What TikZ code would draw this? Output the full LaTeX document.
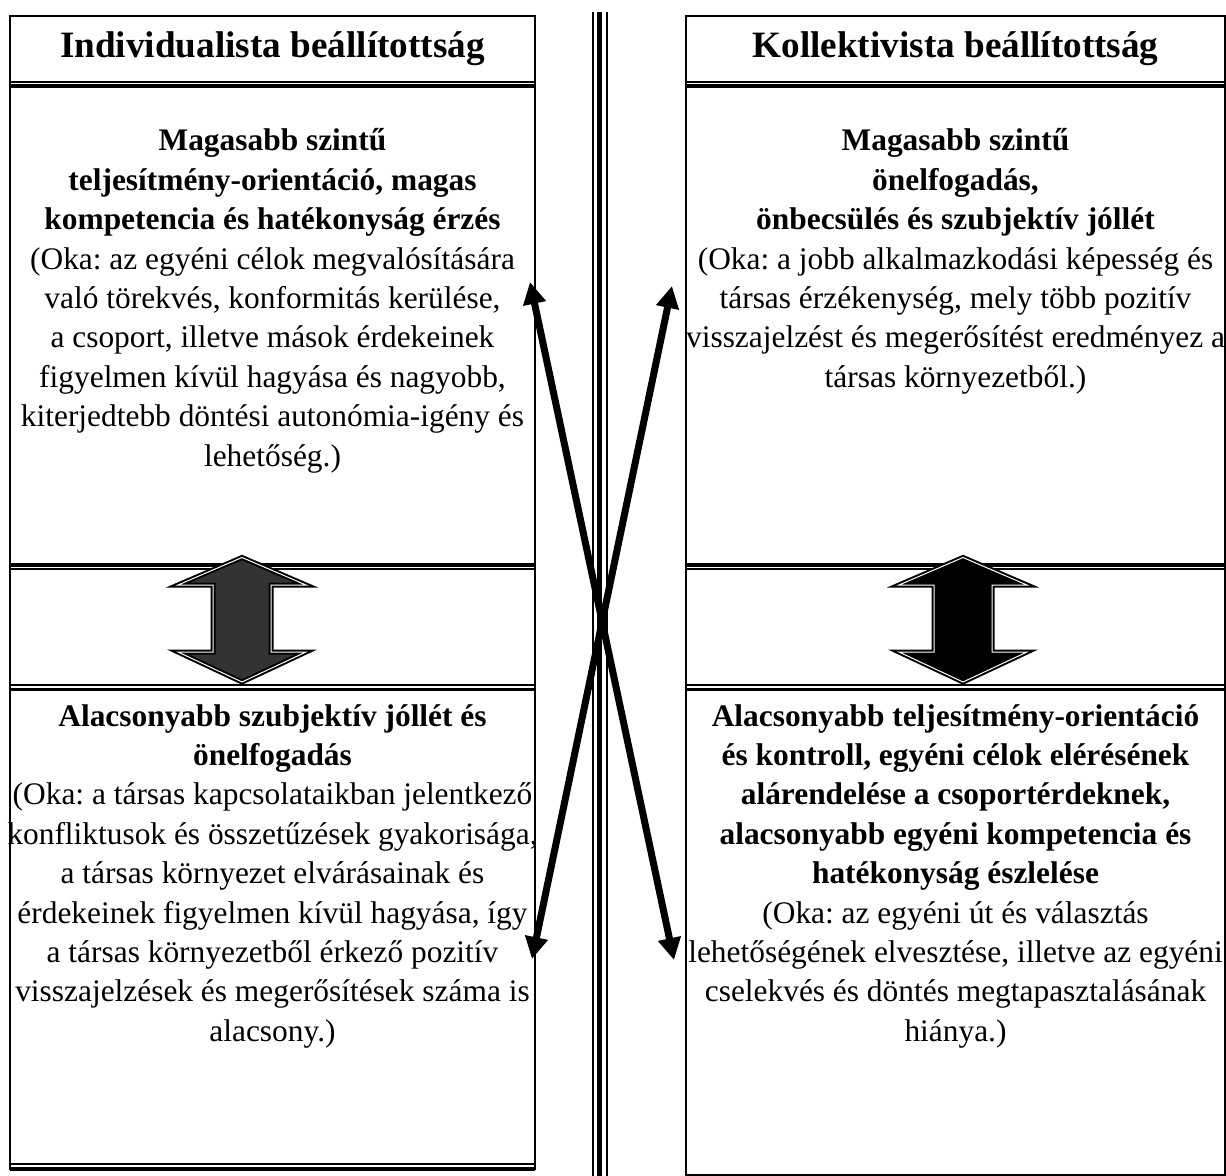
\documentclass[tikz,border=0pt]{standalone}
\usepackage{fontspec}
\setmainfont{Liberation Serif}
\usetikzlibrary{arrows.meta}
\frenchspacing

\begin{document}
\begin{tikzpicture}[
  x=0.5pt, y=-0.5pt,
  side/.style={line width=1.2pt},
  thinrule/.style={line width=0.8pt},
  thickrule/.style={line width=1.9pt},
  head/.style={font=\fontsize{18.6}{22}\selectfont\bfseries, inner sep=0pt},
  cell/.style={font=\fontsize{15.7}{19.7}\selectfont\setlength{\normalbaselineskip}{19.7pt},
    align=flush center, text width=290pt, inner sep=0pt, anchor=base},
  swap/.style={draw=black, line width=1pt, double=white,
    double distance=0.5pt, line join=miter},
  cross/.style={{Triangle[length=11pt,width=11pt]}-{Triangle[length=11pt,width=11pt]},
    line width=3.5pt},
]
\useasboundingbox (0,0) rectangle (1226,1176);

% table frames
\draw[side] (10,1170) -- (10,16) -- (535,16) -- (535,1170);
\draw[side] (686,1176) -- (686,16) -- (1225,16) -- (1225,1176);
\draw[side] (686,1175) -- (1225,1175);
\foreach \xa/\xb in {10/535, 686/1225} {
  \draw[thinrule] (\xa,81.8) -- (\xb,81.8);
  \draw[thickrule] (\xa,86.2) -- (\xb,86.2);
  \draw[thickrule] (\xa,565.3) -- (\xb,565.3);
  \draw[thinrule] (\xa,569.2) -- (\xb,569.2);
  \draw[thinrule] (\xa,685) -- (\xb,685);
  \draw[thickrule] (\xa,689.5) -- (\xb,689.5);
}
\draw[thinrule] (10,1163.7) -- (535,1163.7);
\draw[thickrule] (10,1169.2) -- (535,1169.2);

% middle separator
\draw[line width=1pt] (593.3,12) -- (593.3,1176);
\draw[line width=2.8pt] (599.5,12) -- (599.5,1176);
\draw[line width=1pt] (606.7,12) -- (606.7,1176);

% headers
\node[head] (lhead) at (272.5,49) {Individualista beállítottság};
\node[head] (rhead) at (955.5,49) {Kollektivista beállítottság};

% cells
\node[cell] (lup) at (272.5,151) {{\bfseries Magasabb szintű\\
  teljesítmény-orientáció, magas\\
  kompetencia és hatékonyság érzés}\\
  (Oka: az egyéni célok megvalósítására\\
  való törekvés, konformitás kerülése,\\
  a csoport, illetve mások érdekeinek\\
  figyelmen kívül hagyása és nagyobb,\\
  kiterjedtebb döntési autonómia-igény és\\
  lehetőség.)};
\node[cell] (rup) at (955.5,151) {{\bfseries Magasabb szintű\\
  önelfogadás,\\
  önbecsülés és szubjektív jóllét}\\
  (Oka: a jobb alkalmazkodási képesség és\\
  társas érzékenység, mely több pozitív\\
  visszajelzést és megerősítést eredményez a\\
  társas környezetből.)};
\node[cell] (llow) at (272.5,726) {{\bfseries Alacsonyabb szubjektív jóllét és\\
  önelfogadás}\\
  (Oka: a társas kapcsolataikban jelentkező\\
  konfliktusok és összetűzések gyakorisága,\\
  a társas környezet elvárásainak és\\
  érdekeinek figyelmen kívül hagyása, így\\
  a társas környezetből érkező pozitív\\
  visszajelzések és megerősítések száma is\\
  alacsony.)};
\node[cell] (rlow) at (955.5,726) {{\bfseries Alacsonyabb teljesítmény-orientáció\\
  és kontroll, egyéni célok elérésének\\
  alárendelése a csoportérdeknek,\\
  alacsonyabb egyéni kompetencia és\\
  hatékonyság észlelése}\\
  (Oka: az egyéni út és választás\\
  lehetőségének elvesztése, illetve az egyéni\\
  cselekvés és döntés megtapasztalásának\\
  hiánya.)};

% block arrows inside the rows
\foreach \cx/\col in {242/black!80, 963/black} {
  \draw[swap, fill=\col] (\cx,557.5) -- (\cx+64,585) -- (\cx+29,585)
    -- (\cx+29,652) -- (\cx+64,652) -- (\cx,682) -- (\cx-64,652)
    -- (\cx-29,652) -- (\cx-29,585) -- (\cx-64,585) -- cycle;
}

% crossing arrows
\coordinate (lupTip) at (530,282);
\coordinate (rupTip) at (672,286);
\coordinate (llowTip) at (532,959);
\coordinate (rlowTip) at (674,960);
\draw[cross] (lupTip) -- (rlowTip);
\draw[cross] (rupTip) -- (llowTip);
\end{tikzpicture}
\end{document}
